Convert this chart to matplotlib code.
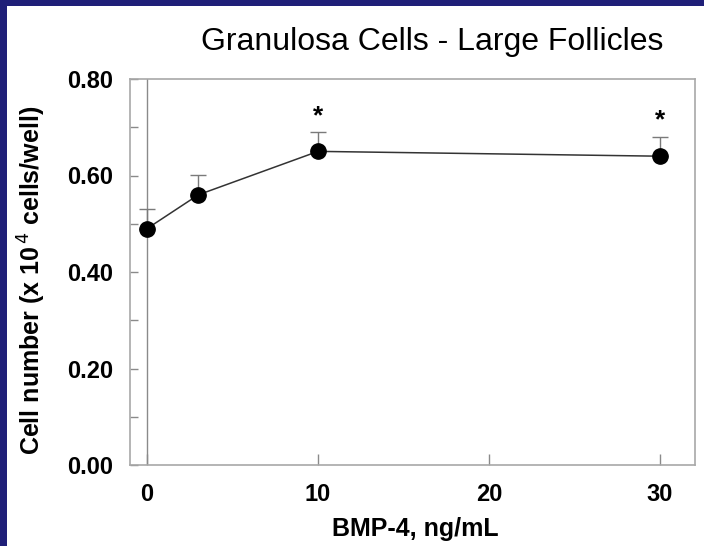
import matplotlib
matplotlib.use("Agg")
import matplotlib.pyplot as plt
from matplotlib.patches import Rectangle

# Data
dose = [0, 3, 10, 30]
cell_number = [0.49, 0.56, 0.65, 0.64]
sem_upper = [0.04, 0.04, 0.04, 0.04]
signif_x = [10, 30]
signif_y = [0.722, 0.714]
xticks = [0, 10, 20, 30]
yticks_major = [0.0, 0.2, 0.4, 0.6, 0.8]
ytick_labels = ["0.00", "0.20", "0.40", "0.60", "0.80"]

plt.rcParams['font.family'] = ['Liberation Sans', 'DejaVu Sans']

W, H = 704, 546
navy = '#1f1f78'
fig = plt.figure(figsize=(W / 100, H / 100), dpi=100)
fig.patch.set_facecolor('white')
fig.patches.append(Rectangle((0, 0), 7 / W, 1, transform=fig.transFigure,
                             facecolor=navy, edgecolor='none', zorder=0))
fig.patches.append(Rectangle((0, 1 - 6 / H), 1, 6 / H, transform=fig.transFigure,
                             facecolor=navy, edgecolor='none', zorder=0))

ax = fig.add_axes([130 / W, 1 - 465 / H, (695 - 130) / W, (465 - 79) / H])
ax.set_zorder(2)
ax.set_xlim(-1, 32.05)
ax.set_ylim(0, 0.8)

grey = '#a8a8a8'
for s in ax.spines.values():
    s.set_color(grey)
    s.set_linewidth(1.2)

# vertical axis line at x = 0
ax.axvline(0, color='#8a8a8a', lw=1.0, zorder=1)

ax.errorbar(dose, cell_number, yerr=[[0] * len(dose), sem_upper], fmt='none',
            ecolor='#7a7a7a', elinewidth=1.0, capsize=6, capthick=1.0, zorder=2)
ax.plot(dose, cell_number, color='#333333', lw=1.1, zorder=3)
ax.plot(dose, cell_number, 'o', color='black', ms=11, zorder=4)

for sx, sy in zip(signif_x, signif_y):
    ax.text(sx, sy, '*', ha='center', va='center', fontsize=19, fontweight='bold')

ax.set_xticks(xticks)
ax.set_xticklabels([str(t) for t in xticks], fontsize=17, fontweight='bold')
ax.set_yticks(yticks_major)
ax.set_yticklabels(ytick_labels, fontsize=17, fontweight='bold')
ax.set_yticks([0.1, 0.3, 0.5, 0.7], minor=True)
ax.tick_params(axis='both', which='both', direction='in', color='#8a8a8a', width=1.0)
ax.tick_params(axis='y', which='both', length=6, pad=12)
ax.tick_params(axis='x', which='major', length=8, pad=13)

ax.set_xlabel('BMP-4, ng/mL', fontsize=18, fontweight='bold', va='center', ha='center')
ax.xaxis.set_label_coords((415 - 130) / 565, (465 - 529) / 386)
ax.set_ylabel('Cell number (x 10$^{\\,4}$ cells/well)', fontsize=18, fontweight='bold',
              va='center', ha='center')
ax.yaxis.set_label_coords((32 - 130) / 565, (465 - 280) / 386)

fig.text(432 / W, 1 - 42 / H, 'Granulosa Cells - Large Follicles', fontsize=23,
         ha='center', va='center')

fig.savefig('out.png', dpi=100, facecolor=fig.get_facecolor())
